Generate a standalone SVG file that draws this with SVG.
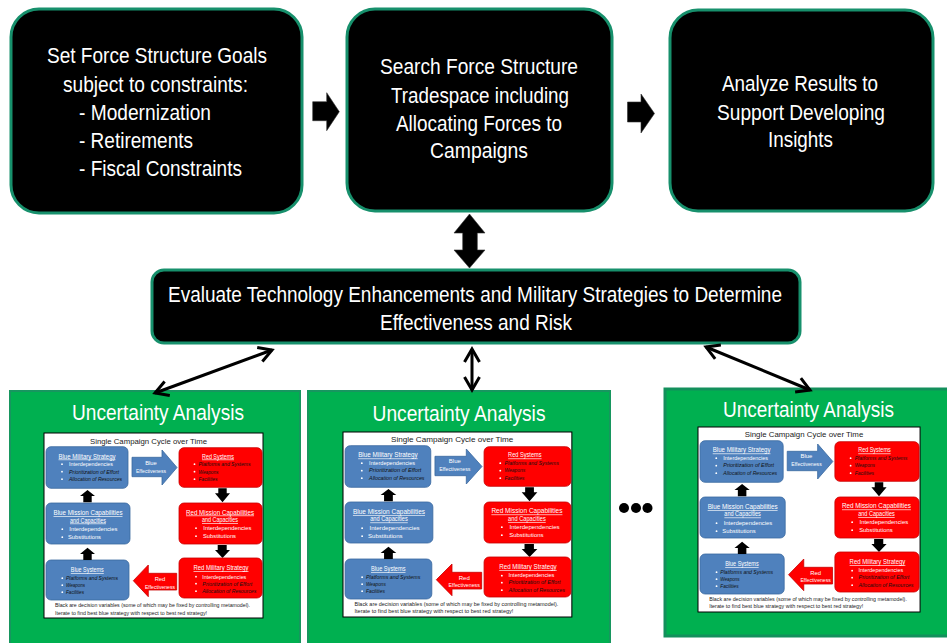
<svg xmlns="http://www.w3.org/2000/svg" xmlns:xlink="http://www.w3.org/1999/xlink" width="947" height="643" viewBox="0 0 947 643">
  <style>
    .box { fill:#000; stroke:#17906c; stroke-width:3; }
    .t { font-family:"Liberation Sans", Arial, sans-serif; font-size:22px; fill:#fff; }
    .m { text-anchor:middle; }
    .panel { fill:#00b050; stroke:#17965f; stroke-width:2; }
    .blk { fill:#000; stroke:#333; stroke-width:0.6; }
    .conn { fill:none; stroke:#000; stroke-width:3; marker-start:url(#open); marker-end:url(#open); }
    .c text { font-family:"Liberation Sans", Arial, sans-serif; }
    .bb { fill:#4f81bd; stroke:#3b6aa0; stroke-width:0.8; }
    .rb { fill:#ff0000; stroke:#c80000; stroke-width:0.8; }
    .hd { font-size:6.6px; fill:#fff; text-decoration:underline; text-anchor:middle; }
    .nt { font-size:6px; fill:#fff; }
    .it { font-size:6px; font-style:italic; fill:#111; }
    .lb { font-size:5.8px; fill:#fff; text-anchor:middle; }
    .dt { fill:#fff; }
    .ft { font-size:5.6px; fill:#222; }
  </style>
  <defs>
    <marker id="open" viewBox="-16 -10 20 20" refX="0" refY="0" markerWidth="20" markerHeight="20" markerUnits="userSpaceOnUse" orient="auto-start-reverse">
      <path d="M -13 -7.5 L 0 0 L -13 7.5" fill="none" stroke="#000" stroke-width="3" stroke-linejoin="miter"/>
    </marker>

    <!-- single campaign cycle chart, drawn in a 219 x 185 frame -->
    <g id="cycle" class="c">
      <rect width="219" height="185" fill="#fff" stroke="#000" stroke-width="1"/>
      <text x="104.5" y="10.5" font-size="8" fill="#222" text-anchor="middle" textLength="117" lengthAdjust="spacingAndGlyphs">Single Campaign Cycle over Time</text>

      <!-- blue military strategy -->
      <rect class="bb" x="2" y="13.7" width="82" height="41.6" rx="5"/>
      <text class="hd" x="43" y="25.5" textLength="57" lengthAdjust="spacingAndGlyphs">Blue  Military Strategy</text>
      <circle class="dt" cx="18" cy="31.2" r="0.9"/>
      <circle class="dt" cx="18" cy="38.7" r="0.9"/>
      <circle class="dt" cx="18" cy="46.2" r="0.9"/>
      <text class="nt" x="25" y="33" textLength="44" lengthAdjust="spacingAndGlyphs">Interdependencies</text>
      <text class="it" x="25" y="40.5" textLength="50" lengthAdjust="spacingAndGlyphs">Prioritization of Effort</text>
      <text class="it" x="25" y="48" textLength="53" lengthAdjust="spacingAndGlyphs">Allocation of Resources</text>

      <!-- blue effectiveness arrow -->
      <polygon class="bb" points="88,24.3 118,24.3 118,17 133,34.5 118,52 118,43.7 88,43.7"/>
      <text class="lb" x="107" y="31.5">Blue</text>
      <text class="lb" x="107" y="39.5" textLength="30" lengthAdjust="spacingAndGlyphs">Effectiveness</text>

      <!-- red systems -->
      <rect class="rb" x="135" y="14.7" width="83" height="39.6" rx="5"/>
      <text class="hd" x="174" y="25.5" textLength="32" lengthAdjust="spacingAndGlyphs">Red Systems</text>
      <circle class="dt" cx="150.5" cy="31.2" r="0.9"/>
      <circle class="dt" cx="150.5" cy="38.7" r="0.9"/>
      <circle class="dt" cx="150.5" cy="46.2" r="0.9"/>
      <text class="it" x="154.5" y="33" textLength="52" lengthAdjust="spacingAndGlyphs">Platforms and Systems</text>
      <text class="it" x="154.5" y="40.5" textLength="20" lengthAdjust="spacingAndGlyphs">Weapons</text>
      <text class="it" x="154.5" y="48" textLength="19" lengthAdjust="spacingAndGlyphs">Facilities</text>

      <!-- down arrow -->
      <polygon fill="#000" points="174.3,55.3 182.7,55.3 182.7,60.3 186,60.3 178.5,69.3 171,60.3 174.3,60.3"/>

      <!-- red mission capabilities -->
      <rect class="rb" x="135" y="70" width="83" height="41" rx="5"/>
      <text class="hd" x="176" y="81.5" textLength="68" lengthAdjust="spacingAndGlyphs">Red Mission Capabilities</text>
      <text class="hd" x="176" y="89" textLength="36" lengthAdjust="spacingAndGlyphs">and Capacities</text>
      <circle class="dt" cx="152" cy="95.2" r="0.9"/>
      <circle class="dt" cx="152" cy="103.2" r="0.9"/>
      <text class="nt" x="159.3" y="97" textLength="48" lengthAdjust="spacingAndGlyphs">Interdependencies</text>
      <text class="nt" x="159" y="105" textLength="33" lengthAdjust="spacingAndGlyphs">Substitutions</text>

      <!-- down arrow -->
      <polygon fill="#000" points="173.7,112 182.7,112 182.7,117 186,117 178.5,125 171,117 173.7,117"/>

      <!-- red military strategy -->
      <rect class="rb" x="135" y="125" width="83" height="40" rx="5"/>
      <text class="hd" x="177" y="137" textLength="55" lengthAdjust="spacingAndGlyphs">Red  Military Strategy</text>
      <circle class="dt" cx="152" cy="143.7" r="0.9"/>
      <circle class="dt" cx="152" cy="150.7" r="0.9"/>
      <circle class="dt" cx="152" cy="158.2" r="0.9"/>
      <text class="nt" x="158.3" y="145.5" textLength="44" lengthAdjust="spacingAndGlyphs">Interdependencies</text>
      <text class="it" x="158.3" y="152.5" textLength="50" lengthAdjust="spacingAndGlyphs">Prioritization of Effort</text>
      <text class="it" x="158.3" y="160" textLength="54" lengthAdjust="spacingAndGlyphs">Allocation of Resources</text>

      <!-- red effectiveness arrow -->
      <polygon class="rb" points="132.7,140.3 104.3,140.3 104.3,132 89.3,147.7 104.3,163.7 104.3,157 132.7,157"/>
      <text class="lb" x="116" y="148">Red</text>
      <text class="lb" x="116" y="155.5" textLength="30" lengthAdjust="spacingAndGlyphs">Effectiveness</text>

      <!-- blue systems -->
      <rect class="bb" x="2" y="127" width="83" height="40" rx="5"/>
      <text class="hd" x="43.3" y="139" textLength="33" lengthAdjust="spacingAndGlyphs">Blue Systems</text>
      <circle class="dt" cx="18.3" cy="145.2" r="0.9"/>
      <circle class="dt" cx="18.3" cy="152.2" r="0.9"/>
      <circle class="dt" cx="18.3" cy="159.2" r="0.9"/>
      <text class="it" x="22" y="147" textLength="52" lengthAdjust="spacingAndGlyphs">Platforms and Systems</text>
      <text class="it" x="22" y="154" textLength="19" lengthAdjust="spacingAndGlyphs">Weapons</text>
      <text class="it" x="22" y="161" textLength="18" lengthAdjust="spacingAndGlyphs">Facilities</text>

      <!-- up arrow -->
      <polygon fill="#000" points="43.5,114.7 51,121 47.7,121 47.7,127 39.3,127 39.3,121 36,121"/>

      <!-- blue mission capabilities -->
      <rect class="bb" x="2" y="70" width="84" height="41" rx="5"/>
      <text class="hd" x="44" y="82" textLength="69" lengthAdjust="spacingAndGlyphs">Blue Mission Capabilities</text>
      <text class="hd" x="44" y="89.5" textLength="36" lengthAdjust="spacingAndGlyphs">and Capacities</text>
      <circle class="dt" cx="18.3" cy="96.2" r="0.9"/>
      <circle class="dt" cx="18.3" cy="104.2" r="0.9"/>
      <text class="nt" x="25.3" y="98" textLength="48" lengthAdjust="spacingAndGlyphs">Interdependencies</text>
      <text class="nt" x="24" y="106" textLength="33" lengthAdjust="spacingAndGlyphs">Substitutions</text>

      <!-- up arrow -->
      <polygon fill="#000" points="43.5,57 51,63 47.7,63 47.7,69.3 39.3,69.3 39.3,63 36,63"/>

      <text class="ft" x="11" y="174" textLength="195" lengthAdjust="spacingAndGlyphs">Black are decision variables (some of which may be fixed by controlling metamodel).</text>
      <text class="ft" x="11" y="181.5" textLength="152" lengthAdjust="spacingAndGlyphs">Iterate to find best blue strategy with respect to best red strategy!</text>
    </g>
  </defs>

  <rect width="947" height="643" fill="#fff"/>

  <!-- process steps -->
  <g id="set-goals">
    <rect class="box" x="11" y="9" width="291" height="204" rx="28"/>
    <text class="t m" x="157" y="63" textLength="220" lengthAdjust="spacingAndGlyphs">Set Force Structure Goals</text>
    <text class="t m" x="155.5" y="91.5" textLength="185" lengthAdjust="spacingAndGlyphs">subject to constraints:</text>
    <text class="t" x="79" y="120" textLength="132" lengthAdjust="spacingAndGlyphs">- Modernization</text>
    <text class="t" x="79" y="147.5" textLength="114" lengthAdjust="spacingAndGlyphs">- Retirements</text>
    <text class="t" x="79" y="175.5" textLength="163" lengthAdjust="spacingAndGlyphs">- Fiscal Constraints</text>
  </g>

  <g id="search-tradespace">
    <rect class="box" x="347" y="9" width="265" height="202" rx="28"/>
    <text class="t m" x="479" y="74" textLength="198" lengthAdjust="spacingAndGlyphs">Search Force Structure</text>
    <text class="t m" x="480" y="103" textLength="178" lengthAdjust="spacingAndGlyphs">Tradespace including</text>
    <text class="t m" x="479" y="130.5" textLength="166" lengthAdjust="spacingAndGlyphs">Allocating Forces to</text>
    <text class="t m" x="479" y="157.5" textLength="98" lengthAdjust="spacingAndGlyphs">Campaigns</text>
  </g>

  <g id="analyze-results">
    <rect class="box" x="670" y="10" width="263" height="201" rx="28"/>
    <text class="t m" x="800" y="91" textLength="156" lengthAdjust="spacingAndGlyphs">Analyze Results to</text>
    <text class="t m" x="801" y="119.5" textLength="168" lengthAdjust="spacingAndGlyphs">Support Developing</text>
    <text class="t m" x="800.5" y="147" textLength="65" lengthAdjust="spacingAndGlyphs">Insights</text>
  </g>

  <g id="evaluate">
    <rect class="box" x="152" y="270" width="648" height="73" rx="12"/>
    <text class="t m" x="475" y="302" textLength="614" lengthAdjust="spacingAndGlyphs">Evaluate Technology Enhancements and Military Strategies to Determine</text>
    <text class="t m" x="476" y="330" textLength="192" lengthAdjust="spacingAndGlyphs">Effectiveness and Risk</text>
  </g>

  <!-- uncertainty analysis panels -->
  <g id="uncertainty-1">
    <rect class="panel" x="10" y="391" width="290" height="262"/>
    <text class="t m" x="158" y="420" textLength="172" lengthAdjust="spacingAndGlyphs">Uncertainty Analysis</text>
    <use xlink:href="#cycle" transform="translate(44,433)"/>
  </g>

  <g id="uncertainty-2">
    <rect class="panel" x="308" y="391" width="302" height="262"/>
    <text class="t m" x="459" y="421" textLength="173" lengthAdjust="spacingAndGlyphs">Uncertainty Analysis</text>
    <use xlink:href="#cycle" transform="translate(343,432) scale(1.045,1)"/>
  </g>

  <g id="uncertainty-3">
    <rect x="665" y="389" width="292" height="247" fill="#00b050" stroke="#13905c" stroke-width="3"/>
    <text class="t m" x="808.5" y="417" textLength="171" lengthAdjust="spacingAndGlyphs">Uncertainty Analysis</text>
    <use xlink:href="#cycle" transform="translate(698,427) scale(1.014,1)"/>
  </g>

  <g id="ellipsis">
    <circle cx="624" cy="508" r="5" fill="#000"/>
    <circle cx="636" cy="508" r="5" fill="#000"/>
    <circle cx="647.5" cy="508" r="5" fill="#000"/>
  </g>

  <!-- connectors -->
  <g id="connectors">
    <polygon class="blk" points="312.7,101.7 326.7,101.7 326.7,92.7 339.3,111.7 326.7,130.7 326.7,120.7 312.7,120.7"/>
    <polygon class="blk" points="627.5,102 641,102 641,94 654.5,113.5 641,133 641,122 627.5,122"/>
    <polygon class="blk" points="469.5,214 485,233 477.3,233 477.3,250 485,250 469.5,268 454,250 462.7,250 462.7,233 454,233"/>
    <line class="conn" x1="272" y1="350" x2="155" y2="393"/>
    <line class="conn" x1="472" y1="349" x2="472" y2="390"/>
    <line class="conn" x1="706" y1="347" x2="810" y2="390"/>
  </g>
</svg>
